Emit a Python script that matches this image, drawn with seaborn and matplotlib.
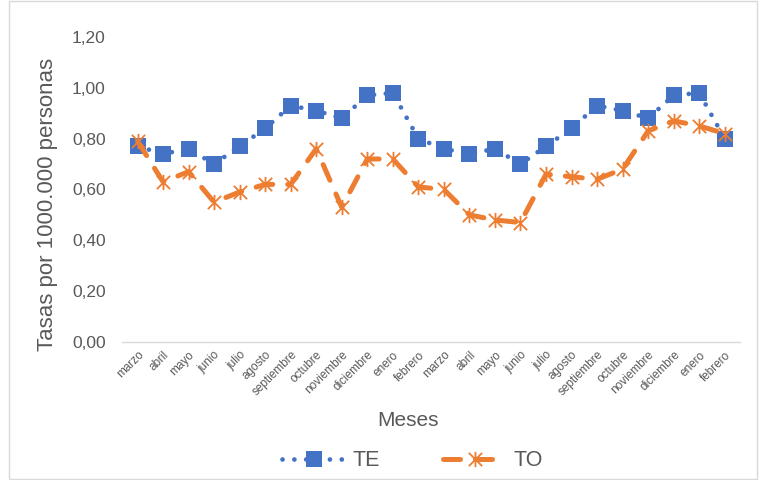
import matplotlib
matplotlib.use("Agg")
import matplotlib.pyplot as plt
import seaborn as sns
import pandas as pd
from matplotlib.ticker import FuncFormatter
from matplotlib.patches import Rectangle
from matplotlib.path import Path

months = ["marzo", "abril", "mayo", "junio", "julio", "agosto", "septiembre",
          "octubre", "noviembre", "diciembre", "enero", "febrero",
          "marzo", "abril", "mayo", "junio", "julio", "agosto", "septiembre",
          "octubre", "noviembre", "diciembre", "enero", "febrero"]
te = [0.77, 0.74, 0.76, 0.70, 0.77, 0.84, 0.93, 0.91, 0.88, 0.97, 0.98, 0.80,
      0.76, 0.74, 0.76, 0.70, 0.77, 0.84, 0.93, 0.91, 0.88, 0.97, 0.98, 0.80]
to = [0.79, 0.63, 0.67, 0.55, 0.59, 0.62, 0.62, 0.76, 0.53, 0.72, 0.72, 0.61,
      0.60, 0.50, 0.48, 0.47, 0.66, 0.65, 0.64, 0.68, 0.83, 0.87, 0.85, 0.82]

df = pd.DataFrame({"idx": list(range(len(months))) * 2,
                   "valor": te + to,
                   "serie": ["TE"] * len(te) + ["TO"] * len(to)})

sns.set_style("white")
plt.rcParams['font.family'] = ['Liberation Sans', 'DejaVu Sans']

fig = plt.figure(figsize=(7.59, 4.80), dpi=100)
ax = fig.add_axes([0.161, 0.2875, 0.814, 0.6355])

blue = "#4472C4"
orange = "#ED7D31"
grey = "#595959"

star = Path([(-1, -1), (1, 1), (-1, 1), (1, -1), (0, -1.15), (0, 1.15)],
            [Path.MOVETO, Path.LINETO, Path.MOVETO, Path.LINETO, Path.MOVETO, Path.LINETO])

sns.lineplot(data=df[df.serie == "TE"], x="idx", y="valor", ax=ax, color=blue,
             linewidth=3.4, linestyle=(0, (0.01, 2.5)),
             marker="s", markersize=11, markeredgewidth=0, label="TE")
l1 = ax.lines[-1]
l1.set_dash_capstyle("round")

sns.lineplot(data=df[df.serie == "TO"], x="idx", y="valor", ax=ax, color=orange,
             linewidth=3.6, linestyle=(0, (3.4, 3.0)),
             marker=star, markersize=11, markeredgewidth=1.3,
             markeredgecolor=orange, markerfacecolor="none", label="TO")
l2 = ax.lines[-1]
l2.set_dash_capstyle("round")

ax.set_xlim(-0.6, len(months) - 0.4)
ax.set_ylim(0, 1.2)
ax.set_yticks([0, 0.2, 0.4, 0.6, 0.8, 1.0, 1.2])
ax.yaxis.set_major_formatter(FuncFormatter(lambda v, p: f"{v:.2f}".replace(".", ",")))
ax.set_xticks(range(len(months)))
ax.set_xticklabels(months, rotation=45, ha="right", rotation_mode="anchor",
                   fontsize=8.5, color=grey)
ax.tick_params(axis="y", labelsize=12.5, labelcolor=grey, length=0, pad=12)
ax.tick_params(axis="x", length=0, pad=5)

for s in ["left", "right", "top"]:
    ax.spines[s].set_visible(False)
ax.spines["bottom"].set_color("#D9D9D9")
ax.spines["bottom"].set_linewidth(1)

ax.set_xlabel("Meses", fontsize=15, color=grey)
ax.xaxis.set_label_coords(0.463, -0.225)
ax.set_ylabel("Tasas por 1000.000 personas", fontsize=16, color=grey)
ax.yaxis.set_label_coords(-0.121, 0.452)
ax.yaxis.label.set_va("center")

leg = ax.legend(loc="center", bbox_to_anchor=(0.470, -0.39), ncol=2,
                frameon=False, fontsize=15.5, handlelength=3.0, handletextpad=0.3,
                columnspacing=2.9, labelcolor=grey)

fig.patches.append(Rectangle((0.012, 0.003), 0.985, 0.994, transform=fig.transFigure,
                             fill=False, edgecolor="#D9D9D9", linewidth=1))

fig.savefig("out.png", dpi=100)
